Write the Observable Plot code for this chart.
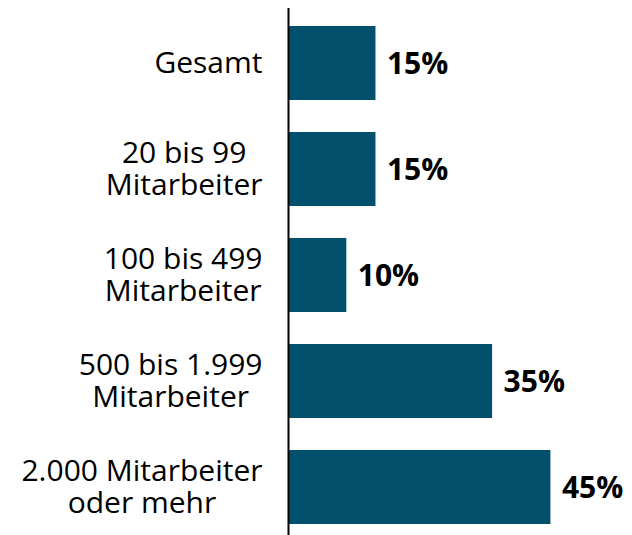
<!DOCTYPE html>
<html><head><meta charset="utf-8">
<script src="https://cdn.jsdelivr.net/npm/d3@7"></script>
<script src="https://cdn.jsdelivr.net/npm/@observablehq/plot@0.6"></script>
<style>
html,body{margin:0;padding:0;background:#fff;}
#chart svg{display:block;}
</style>
</head><body><div id="chart"></div>
<script>
const categories = ["Gesamt", "20 bis 99\nMitarbeiter", "100 bis 499\nMitarbeiter", "500 bis 1.999\nMitarbeiter", "2.000 Mitarbeiter\noder mehr"];
const values = [15, 15, 10, 35, 45];
const valueLabels = ["15%", "15%", "10%", "35%", "45%"];

const data = categories.map((c, i) => ({cat: c, value: values[i], label: valueLabels[i]}));
const font = "'Open Sans', sans-serif";

const chart = Plot.plot({
  width: 632,
  height: 535,
  margin: 0,
  style: {fontFamily: font, background: "#fff"},
  x: {domain: [0, 45], range: [288, 550.4], axis: null},
  y: {domain: categories, range: [10, 540], paddingInner: 0.3, paddingOuter: 0.15, axis: null},
  marks: [
    Plot.barX(data, {x: "value", y: "cat", fill: "#03506c"}),
    Plot.ruleX([0], {insetTop: 8, stroke: "#000", strokeWidth: 2}),
    Plot.text(data, {x: 0, y: "cat", text: "cat", textAnchor: "end", dx: -26, dy: -1, fontSize: 30, lineHeight: 1.08, fill: "#000", className: "catlabel"}),
    Plot.text(data, {x: "value", y: "cat", text: "label", textAnchor: "start", dx: 11, dy: 1, fontSize: 30, fontWeight: "bold", fill: "#000"})
  ]
});
document.getElementById("chart").appendChild(chart);

// center each multi-line label within its block, block right-aligned
chart.querySelectorAll("g.catlabel text").forEach(t => {
  const bbox = t.getBBox();
  const shift = -bbox.width / 2;
  t.setAttribute("text-anchor", "middle");
  const tr = t.getAttribute("transform");
  t.setAttribute("transform", (tr || "") + ` translate(${shift},0)`);
});
</script>
</body></html>
